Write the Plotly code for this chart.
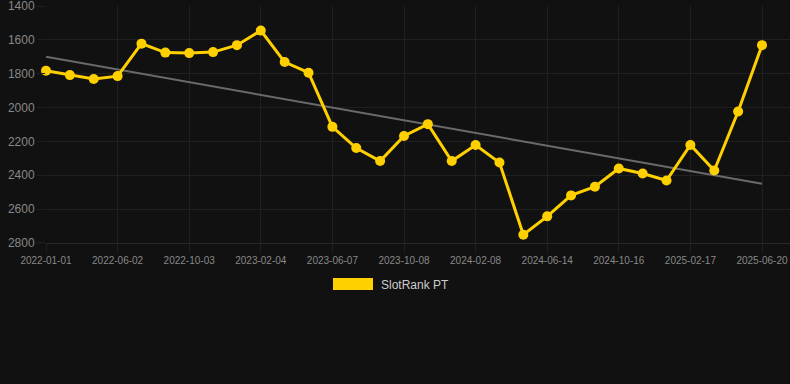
import plotly.graph_objects as go

# ---- data ----
tick_labels = ["2022-01-01", "2022-06-02", "2022-10-03", "2023-02-04", "2023-06-07",
               "2023-10-08", "2024-02-08", "2024-06-14", "2024-10-16", "2025-02-17",
               "2025-06-20"]
rank_values = [1782, 1808, 1831, 1814, 1622, 1675, 1678, 1672, 1631, 1545,
               1731, 1794, 2114, 2239, 2316, 2168, 2098, 2316, 2221, 2325,
               2752, 2643, 2519, 2468, 2360, 2390, 2431, 2221, 2372, 2023,
               1631]
trend_values = [1700, 2450]
y_ticks = [1400, 1600, 1800, 2000, 2200, 2400, 2600, 2800]
series_name = "SlotRank PT"

x_idx = list(range(len(rank_values)))
tick_idx = list(range(0, len(rank_values), 3))

YELLOW = "#FFD000"
BG = "#111111"
GRID = "#202020"
TICKFONT = "#888888"

fig = go.Figure()
fig.add_trace(go.Scatter(
    x=[x_idx[0], x_idx[-1]], y=trend_values, mode="lines",
    line=dict(color="#6a6a6a", width=2), showlegend=False, hoverinfo="skip",
    cliponaxis=False))
fig.add_trace(go.Scatter(
    x=x_idx, y=rank_values, mode="lines+markers", name=series_name,
    line=dict(color=YELLOW, width=3), marker=dict(color=YELLOW, size=10),
    showlegend=False, cliponaxis=False))

L, R, T, B = 46, 0, 6, 141
W, H = 790, 384
pw, ph = W - L - R, H - T - B
step = 716 / 30.0
xmax = 30 + (W - R - 762) / step

def px_x(p):
    return (p - L) / pw

def px_y(p):
    return (H - B - p) / ph

fig.update_layout(
    width=W, height=H,
    margin=dict(l=L, r=R, t=T, b=B),
    paper_bgcolor=BG, plot_bgcolor=BG,
    font=dict(family="Arial, Liberation Sans, sans-serif", color=TICKFONT),
    xaxis=dict(range=[0, xmax], tickmode="array", tickvals=tick_idx, ticktext=tick_labels,
               showgrid=True, gridcolor=GRID, gridwidth=1, zeroline=False,
               showline=True, linecolor="#282828", linewidth=1,
               ticks="outside", ticklen=8, tickcolor=GRID,
               ticklabeloverflow="allow",
               tickfont=dict(size=10, color=TICKFONT)),
    yaxis=dict(range=[2800.5, 1399.5], tickmode="array", tickvals=y_ticks,
               showgrid=True, gridcolor=GRID, gridwidth=1, zeroline=False,
               ticks="outside", ticklen=8, tickcolor=GRID,
               ticklabeloverflow="allow",
               tickfont=dict(size=12, color=TICKFONT)),
    shapes=[dict(type="rect", xref="paper", yref="paper",
                 x0=px_x(333), x1=px_x(373), y0=px_y(290), y1=px_y(278),
                 fillcolor=YELLOW, line=dict(width=0))],
    annotations=[dict(text=series_name, xref="paper", yref="paper",
                      x=px_x(379), y=px_y(284.5), xanchor="left", yanchor="middle",
                      showarrow=False, font=dict(size=12, color="#cccccc"))],
)

fig.write_html("out.html", config={"displayModeBar": False},
               post_script="document.body.style.margin='0';document.body.style.background='#111111';")
